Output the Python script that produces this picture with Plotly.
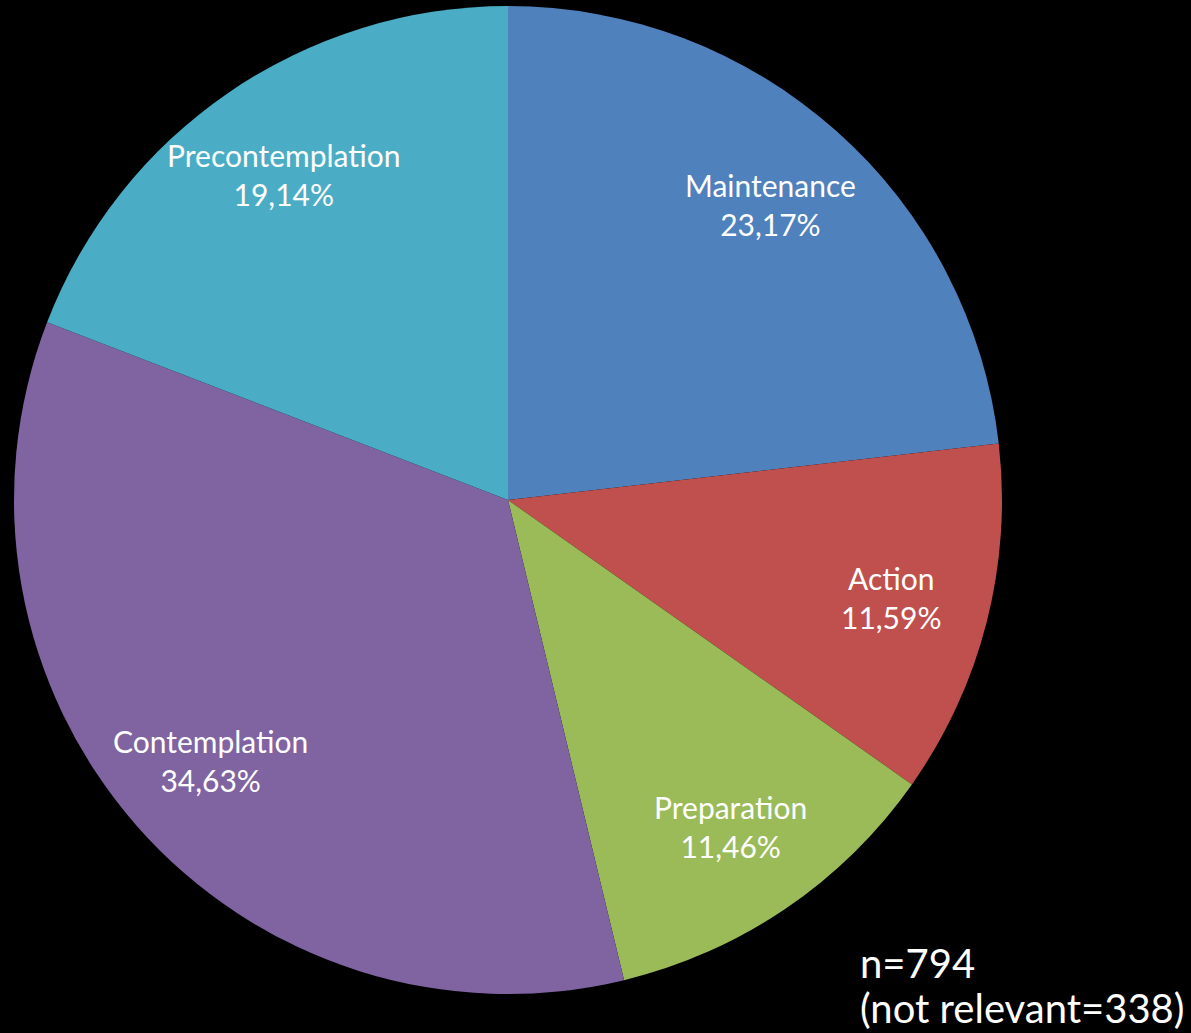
import math
import plotly.graph_objects as go

labels = ["Maintenance", "Action", "Preparation", "Contemplation", "Precontemplation"]
values = [23.17, 11.59, 11.46, 34.63, 19.14]
value_text = ["23,17%", "11,59%", "11,46%", "34,63%", "19,14%"]
colors = ["#4F81BD", "#C0504D", "#9BBB59", "#8064A2", "#4BACC6"]
note_lines = ["n=794", "(not relevant=338)"]

W, H = 1191, 1033
cx, cy, r = 508, 500, 494
FONT = "Lato, Open Sans, sans-serif"

fig = go.Figure(go.Pie(
    labels=labels,
    values=values,
    textinfo="none",
    sort=False,
    direction="clockwise",
    rotation=0,
    marker=dict(colors=colors, line=dict(color="#000000", width=0)),
    hoverinfo="label+percent",
    domain=dict(x=[(cx - r) / W, (cx + r) / W],
                y=[(H - cy - r) / H, (H - cy + r) / H]),
    showlegend=False,
))

# slice labels at the mid-angle of each slice (derived from the values)
total = sum(values)
cum = 0.0
for lab, val, txt in zip(labels, values, value_text):
    mid = (cum + val / 2) / total * 2 * math.pi
    cum += val
    px = cx + 0.8 * r * math.sin(mid)
    py = cy - 0.8 * r * math.cos(mid)
    fig.add_annotation(
        x=px / W, y=(H - py) / H, xref="paper", yref="paper",
        xanchor="center", yanchor="middle", showarrow=False,
        text=f"{lab}<br>{txt}",
        font=dict(family=FONT, size=30, color="white"),
    )

for i, line in enumerate(note_lines):
    fig.add_annotation(
        x=858 / W, y=(H - (963 + 45 * i)) / H, xref="paper", yref="paper",
        xanchor="left", yanchor="middle", align="left", showarrow=False,
        text=line,
        font=dict(family=FONT, size=40, color="white"),
    )

fig.update_layout(
    width=W, height=H,
    paper_bgcolor="#000000", plot_bgcolor="#000000",
    margin=dict(l=0, r=0, t=0, b=0),
)

fig.write_html(
    "out.html",
    config={"displayModeBar": False},
    post_script="document.body.style.margin='0';document.body.style.background='#000';",
)
